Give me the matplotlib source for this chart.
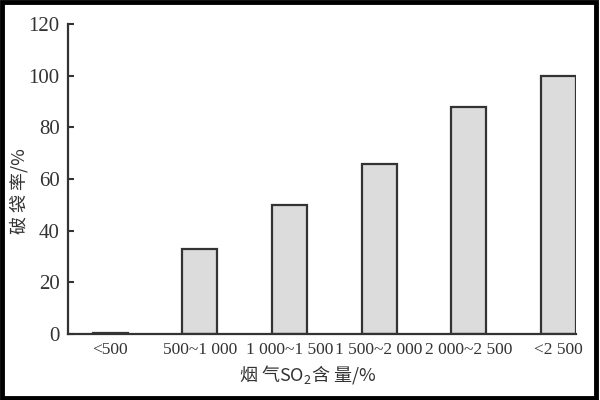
import matplotlib
matplotlib.use("Agg")
import matplotlib.pyplot as plt
from matplotlib.patches import Rectangle

# SO2 content ranges in flue gas and bag breakage rate (%)
categories = ['<500', '500~1 000', '1 000~1 500', '1 500~2 000', '2 000~2 500', '<2 500']
breakage = [0.5, 33, 50, 66, 88, 100]
yticks = [0, 20, 40, 60, 80, 100, 120]

plt.rcParams['font.family'] = ['Liberation Serif', 'Noto Sans CJK SC']
plt.rcParams['mathtext.fontset'] = 'custom'
plt.rcParams['mathtext.rm'] = 'Noto Sans CJK SC'
plt.rcParams['mathtext.it'] = 'Noto Sans CJK SC'

fig = plt.figure(figsize=(6, 4), dpi=100)
ax = fig.add_axes([68 / 600, 1 - 334 / 400, (576 - 68) / 600, (334 - 24) / 400])

x = range(len(categories))
ax.bar(x, breakage, width=0.39, color='#dcdcdc', edgecolor='#333333', linewidth=1.6)

ax.set_xlim(-0.47, 5.195)
ax.set_ylim(0, 120)
ax.set_yticks(yticks)
ax.set_xticks(list(x))
ax.set_xticklabels(categories, fontsize=12.5, color='#333333')
ax.tick_params(axis='y', direction='in', length=4, width=1.5, labelsize=15, pad=6, colors='#333333')
ax.tick_params(axis='x', length=0, pad=6)

for side in ['top', 'right']:
    ax.spines[side].set_visible(False)
for side in ['left', 'bottom']:
    ax.spines[side].set_linewidth(1.6)
    ax.spines[side].set_color('#333333')

ax.set_ylabel('破 袋 率/%', fontsize=13, color='#333333', family='Noto Sans CJK SC')
ax.yaxis.set_label_coords(-0.077, 0.46)
ax.set_xlabel(r'烟 气SO$_\mathrm{2}$含 量/%', fontsize=13, color='#333333',
              family='Noto Sans CJK SC')
ax.xaxis.set_label_coords(0.472, -0.095)

# black frame around the picture
fig.patches.append(Rectangle((0.003, 0.006), 0.99, 0.99, transform=fig.transFigure,
                             fill=False, edgecolor='black', linewidth=3.5))

fig.savefig('out.png', dpi=100)
